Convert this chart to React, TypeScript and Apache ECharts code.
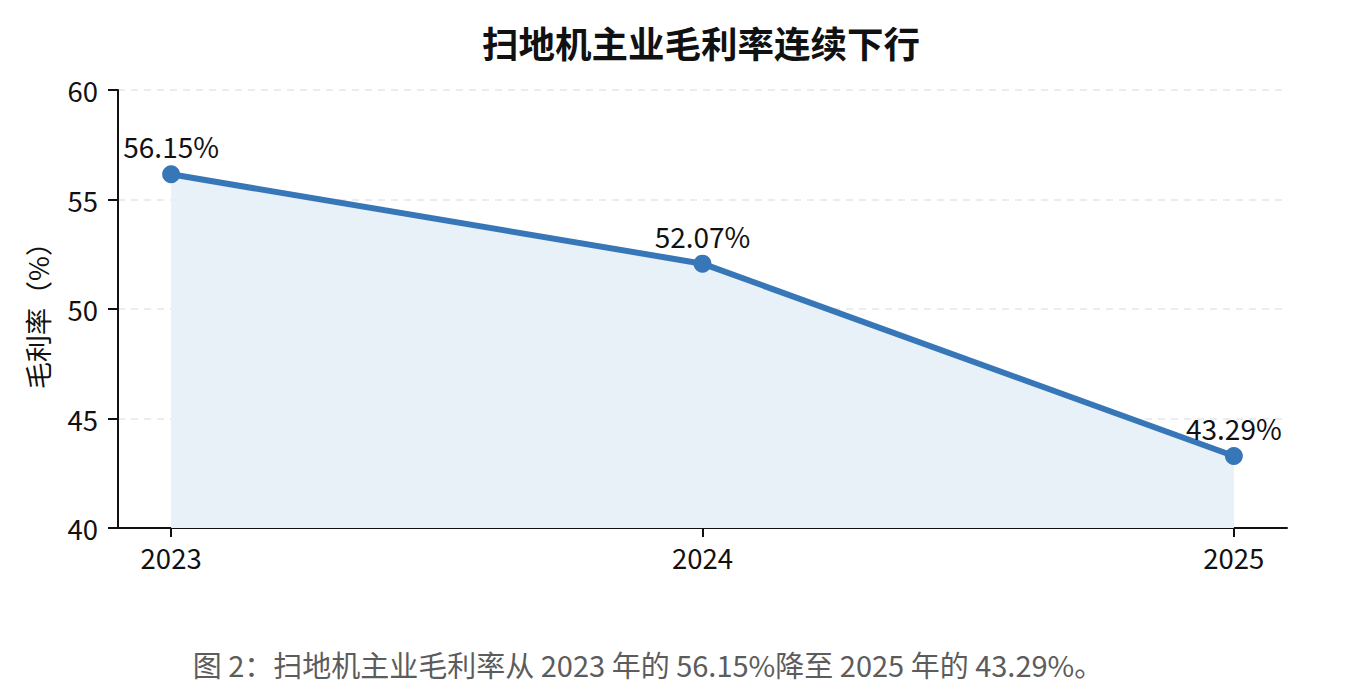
import React, { useEffect, useRef } from "react";
import * as echarts from "echarts";

const years = ["2023", "2024", "2025"];
const margins = [56.15, 52.07, 43.29];
const yTicks = [40, 45, 50, 55, 60];
const titleText = "扫地机主业毛利率连续下行";
const yName = "毛利率（%）";
const caption = "图 2：扫地机主业毛利率从 2023 年的 56.15%降至 2025 年的 43.29%。";

const FONT = "'Noto Sans CJK SC', 'Noto Sans', sans-serif";
const LINE = "#3777b8";

export default function App() {
  const ref = useRef<HTMLDivElement>(null);
  useEffect(() => {
    document.body.style.margin = "0";
    const chart = echarts.init(ref.current!, null, { renderer: "svg" });
    const idx = years.map((_, i) => i);
    chart.setOption({
      animation: false,
      backgroundColor: "#ffffff",
      textStyle: { fontFamily: FONT },
      title: [
        {
          text: titleText,
          left: 696,
          top: 19,
          textAlign: "center",
          textStyle: { fontFamily: FONT, fontSize: 36.5, fontWeight: "bold", color: "#111" },
        },
        {
          text: caption,
          left: 643,
          top: 644,
          textAlign: "center",
          textStyle: { fontFamily: FONT, fontSize: 29, fontWeight: "normal", color: "#5c5c5c" },
        },
      ],
      grid: { left: 118, right: 80, top: 90, bottom: 168, containLabel: false },
      xAxis: {
        type: "value",
        min: -0.1,
        max: 2.1,
        splitLine: { show: false },
        axisLine: { show: true, onZero: false, lineStyle: { color: "#111", width: 2 } },
        axisTick: { show: true, length: 9, lineStyle: { color: "#111", width: 2 }, customValues: idx },
        axisLabel: {
          customValues: idx,
          formatter: (v: number) => years[Math.round(v)] ?? "",
          fontSize: 27.5,
          color: "#111",
          margin: 15,
          fontFamily: FONT,
        },
      },
      yAxis: {
        type: "value",
        min: yTicks[0],
        max: yTicks[yTicks.length - 1],
        interval: 5,
        name: yName,
        nameLocation: "middle",
        nameGap: 67,
        nameRotate: 90,
        nameTextStyle: { fontSize: 27, color: "#111", fontFamily: FONT },
        axisLine: { show: true, onZero: false, lineStyle: { color: "#111", width: 2 } },
        axisTick: { show: true, length: 10, lineStyle: { color: "#111", width: 2 } },
        axisLabel: { fontSize: 27.5, color: "#111", margin: 20, fontFamily: FONT },
        splitLine: { show: true, lineStyle: { color: "#e6e6e6", width: 1.5, type: [7, 6] } },
      },
      series: [
        {
          type: "line",
          data: margins.map((v, i) => [i, v]),
          symbol: "circle",
          symbolSize: 18,
          lineStyle: { color: LINE, width: 6 },
          itemStyle: { color: LINE },
          areaStyle: { color: "#e8f0f8", opacity: 1, origin: "start" },
          label: {
            show: true,
            position: "top",
            distance: 5,
            formatter: (p: any) => p.value[1].toFixed(2) + "%",
            fontSize: 28,
            color: "#111",
            fontFamily: FONT,
          },
        },
      ],
    });
    return () => chart.dispose();
  }, []);
  return <div ref={ref} style={{ position: "absolute", left: 0, top: 0, width: 1367, height: 696 }} />;
}
